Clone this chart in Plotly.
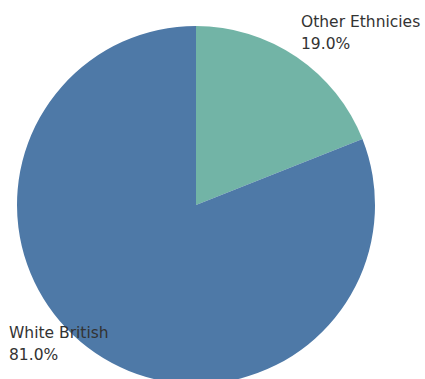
import plotly.graph_objects as go

labels = ["Other Ethnicies", "White British"]
values = [19.0, 81.0]
colors = ["#72b4a6", "#4e79a7"]

W, H = 425, 385
cx, cy, r = 196, 205, 179

fig = go.Figure(go.Pie(
    labels=labels, values=values, sort=False, direction="clockwise", rotation=0,
    marker=dict(colors=colors, line=dict(width=0)),
    textinfo="none", hoverinfo="label+percent", showlegend=False,
    domain=dict(x=[(cx - r) / W, (cx + r) / W], y=[(H - cy - r) / H, (H - cy + r) / H]),
))

font = dict(family="DejaVu Sans", size=15.5, color="#333333")
ann = [
    (labels[0], 299, 22), (f"{values[0]:.1f}%", 299, 44),
    (labels[1], 7, 333), (f"{values[1]:.1f}%", 7, 355),
]
for t, x, y in ann:
    fig.add_annotation(text=t, x=x / W, y=1 - y / H, xref="paper", yref="paper",
                       xanchor="left", yanchor="middle", showarrow=False, font=font)

fig.update_layout(width=W, height=H, margin=dict(l=0, r=0, t=0, b=0),
                  paper_bgcolor="white", plot_bgcolor="white")
fig.write_html("out.html", post_script="document.body.style.overflow='hidden';document.documentElement.style.overflow='hidden';")
